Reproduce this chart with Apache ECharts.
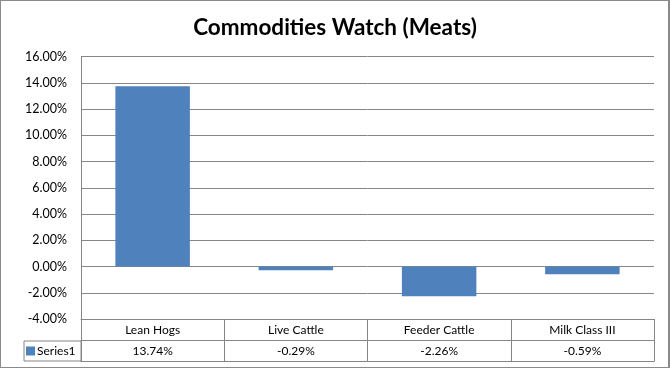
<!DOCTYPE html>
<html><head><meta charset="utf-8">
<script src="https://cdn.jsdelivr.net/npm/echarts@6/dist/echarts.min.js"></script>
<style>
html,body{margin:0;padding:0;background:#fff;}
#wrap{position:relative;width:670px;height:368px;box-sizing:border-box;border:1px solid #8a8a8a;border-right-width:2px;}
#chart{position:absolute;left:-1px;top:-1px;width:670px;height:368px;}
</style></head>
<body>
<div id="wrap"><div id="chart"></div></div>
<script>
const title = 'Commodities Watch (Meats)';
const categories = ['Lean Hogs', 'Live Cattle', 'Feeder Cattle', 'Milk Class III'];
const seriesName = 'Series1';
const values = [0.1374, -0.0029, -0.0226, -0.0059];
const yMin = -0.04, yMax = 0.16, yStep = 0.02;

const pct = v => (v * 100).toFixed(2) + '%';
const FONT = 'Lato, "Open Sans", sans-serif';
const GRID = '#868686';
const BAR = '#4F81BD';

const chart = echarts.init(document.getElementById('chart'));
chart.setOption({
  animation: false,
  title: {text: title, left: 'center', top: 11,
    textStyle: {fontFamily: FONT, fontWeight: 'bold', fontSize: 22.5, color: '#000'}},
  grid: [
    {left: 81, top: 56.5, width: 573, height: 262.5},
    {left: 81, top: 319, width: 573, height: 21.5},
    {left: 81, top: 340.5, width: 573, height: 21}
  ],
  xAxis: [
    {gridIndex: 0, type: 'category', data: categories,
      axisLine: {show: true, onZero: false, lineStyle: {color: GRID}},
      axisTick: {show: false}, axisLabel: {show: false}, splitLine: {show: false}},
    {gridIndex: 1, type: 'category', data: categories, position: 'bottom',
      axisLine: {show: true, lineStyle: {color: GRID}},
      axisTick: {show: true, inside: true, length: 21.5, lineStyle: {color: GRID}},
      axisLabel: {inside: true, margin: 4, fontFamily: FONT, fontSize: 12, color: '#000'}},
    {gridIndex: 2, type: 'category', data: values.map(pct), position: 'bottom',
      axisLine: {show: true, lineStyle: {color: GRID}},
      axisTick: {show: true, inside: true, length: 21, lineStyle: {color: GRID}},
      axisLabel: {inside: true, margin: 4, fontFamily: FONT, fontSize: 12, color: '#000'}}
  ],
  yAxis: [
    {gridIndex: 0, type: 'value', min: yMin, max: yMax, interval: yStep,
      axisLine: {show: true, lineStyle: {color: GRID}},
      axisTick: {show: false},
      axisLabel: {formatter: pct, margin: 14, fontFamily: FONT, fontSize: 12.5, color: '#000'},
      splitLine: {show: true, lineStyle: {color: GRID, width: 1}}},
    {gridIndex: 1, type: 'value', show: false},
    {gridIndex: 2, type: 'category', data: [seriesName],
      axisLine: {show: false}, axisTick: {show: false},
      axisLabel: {margin: 0, formatter: v => '{sq|}{t|' + v + '}',
        align: 'right', verticalAlign: 'middle',
        borderColor: GRID, borderWidth: 1, width: 55, height: 20, lineHeight: 20,
        padding: [0, 0, 0, 2],
        rich: {
          sq: {width: 9, height: 9, backgroundColor: BAR, align: 'left'},
          t: {fontFamily: FONT, fontSize: 12, color: '#000', padding: [0, 0, 0, 2], align: 'left'}
        }}}
  ],
  series: [
    {type: 'bar', name: seriesName, xAxisIndex: 0, yAxisIndex: 0, data: values,
      barWidth: '52%', itemStyle: {color: BAR}}
  ]
});
</script>
</body></html>
